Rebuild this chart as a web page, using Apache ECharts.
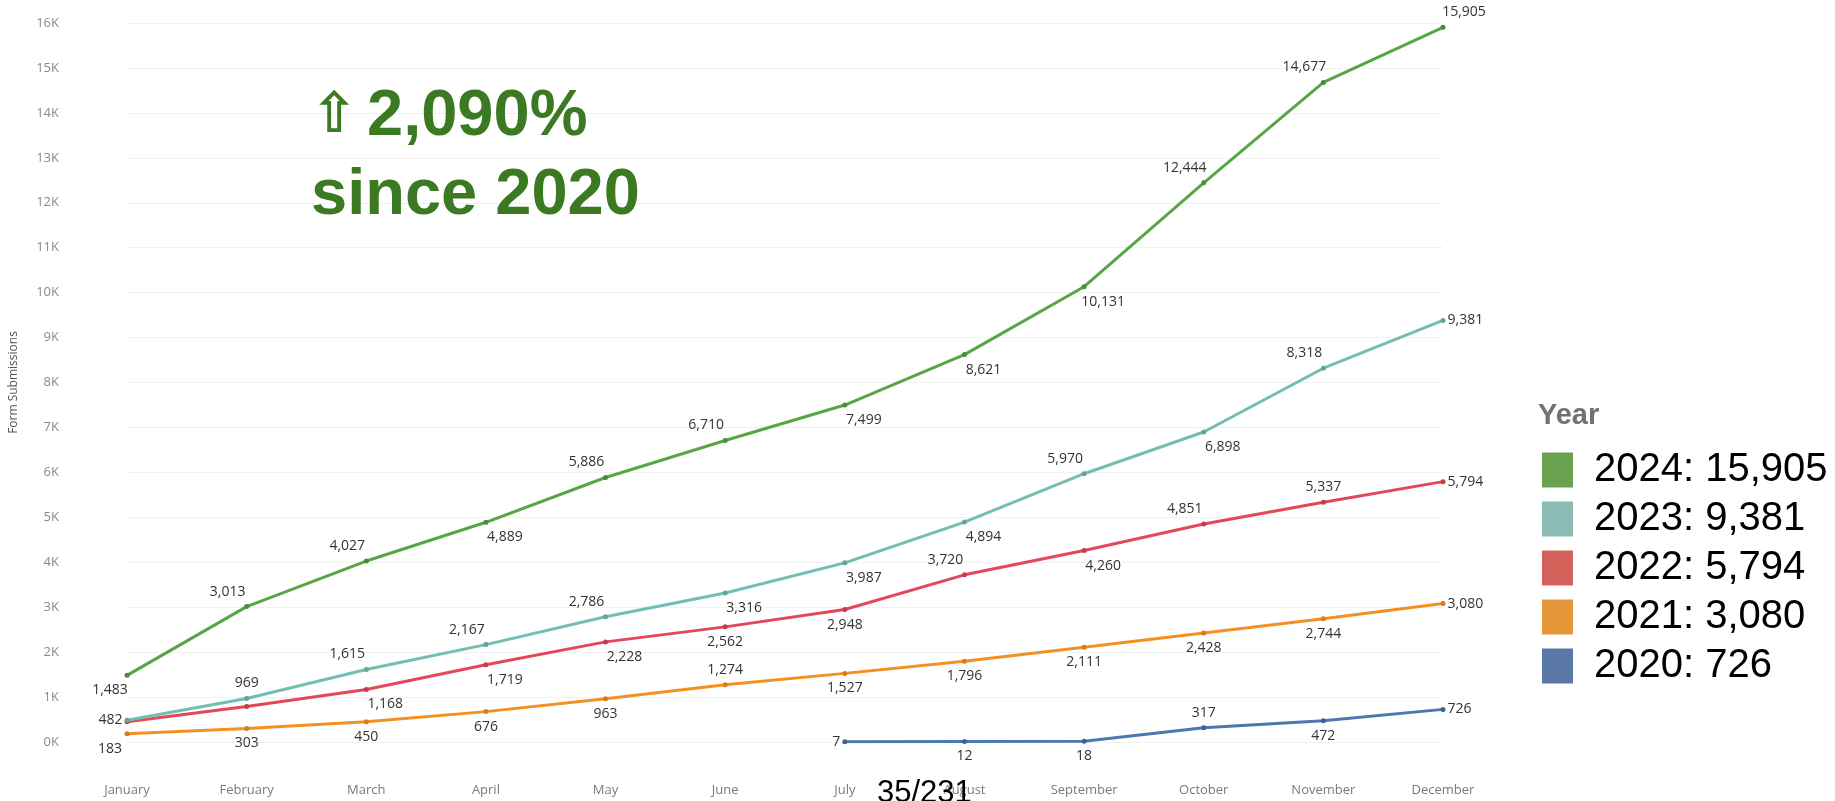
<!DOCTYPE html>
<html>
<head>
<meta charset="utf-8">
<title>Form Submissions by Month</title>
<script src="https://cdn.jsdelivr.net/npm/echarts@6/dist/echarts.min.js"></script>
<style>
  html, body { margin: 0; padding: 0; background: #ffffff; }
  #chart { width: 1835px; height: 801px; }
</style>
</head>
<body>
<div id="chart"></div>
<script>
// Months on the x axis
const months = ['January', 'February', 'March', 'April', 'May', 'June',
  'July', 'August', 'September', 'October', 'November', 'December'];

// Cumulative form submissions per year
const years = ['2024', '2023', '2022', '2021', '2020'];
const values2024 = [1483, 3013, 4027, 4889, 5886, 6710, 7499, 8621, 10131, 12444, 14677, 15905];
const values2023 = [482, 969, 1615, 2167, 2786, 3316, 3987, 4894, 5970, 6898, 8318, 9381];
const values2022 = [450, 790, 1168, 1719, 2228, 2562, 2948, 3720, 4260, 4851, 5337, 5794];
const values2021 = [183, 303, 450, 676, 963, 1274, 1527, 1796, 2111, 2428, 2744, 3080];
const values2020 = [null, null, null, null, null, null, 7, 12, 18, 317, 472, 726];

// Y axis tick range (thousands)
const yMin = 0, yMax = 16000, yStep = 1000;

// Headline text
const growthText = '2,090%';
const sinceText = 'since 2020';
const pageText = '35/231';

// Where each point's value label sits relative to its marker
// a = above, b = below, l = left, r = right, al/ar/bl/br = above/below shifted left/right, '' = none
const labelPlace = {
  '2024': ['bl', 'al', 'al', 'br', 'al', 'al', 'br', 'br', 'br', 'al', 'al', 'ar'],
  '2023': ['l', 'a', 'al', 'al', 'al', 'br', 'br', 'br', 'al', 'br', 'al', 'r'],
  '2022': ['', '', 'br', 'br', 'br', 'b', 'b', 'al', 'br', 'al', 'a', 'r'],
  '2021': ['bl', 'b', 'b', 'b', 'b', 'a', 'b', 'b', 'b', 'b', 'b', 'r'],
  '2020': ['', '', '', '', '', '', 'l', 'b', 'b', 'a', 'b', 'r']
};

const lineColors = {
  '2024': '#57a646', '2023': '#74bdb3', '2022': '#e44856', '2021': '#f4901f', '2020': '#4b78ae'
};
const dotColors = {
  '2024': '#4b8a3f', '2023': '#62a39a', '2022': '#c23d4b', '2021': '#d67d1f', '2020': '#3f628f'
};
const legendColors = {
  '2024': '#6aa14f', '2023': '#8bbcb4', '2022': '#d4625b', '2021': '#e49739', '2020': '#5a78a6'
};

const seriesValues = {
  '2024': values2024, '2023': values2023, '2022': values2022, '2021': values2021, '2020': values2020
};

const fmt = v => Number(v).toLocaleString('en-US');

function labelFor(code) {
  const dy = 15, dx = 19;
  const base = {
    show: true, color: '#333', fontSize: 14,
    fontFamily: '"Open Sans", "Noto Sans", sans-serif',
    formatter: p => fmt(p.value)
  };
  switch (code) {
    case 'a':  return Object.assign(base, { position: 'inside', offset: [0, -dy] });
    case 'b':  return Object.assign(base, { position: 'inside', offset: [0, dy] });
    case 'al': return Object.assign(base, { position: 'inside', offset: [-dx, -dy] });
    case 'ar': return Object.assign(base, { position: 'inside', offset: [dx + 2, -dy] });
    case 'bl': return Object.assign(base, { position: 'inside', offset: [-dx + 2, dy] });
    case 'br': return Object.assign(base, { position: 'inside', offset: [dx, dy] });
    case 'l':  return Object.assign(base, { position: 'left', distance: 2 });
    case 'r':  return Object.assign(base, { position: 'right', distance: 2 });
    default:   return { show: false };
  }
}

const series = years.map((y, si) => ({
  name: y,
  type: 'line',
  z: 10 - si,
  data: seriesValues[y].map((v, i) => ({ value: v, label: labelFor(labelPlace[y][i]) })),
  symbol: 'circle',
  symbolSize: 5,
  showSymbol: true,
  connectNulls: false,
  lineStyle: { color: lineColors[y], width: 3 },
  itemStyle: { color: dotColors[y] },
  emphasis: { disabled: true },
  animation: false
}));

const chart = echarts.init(document.getElementById('chart'), null, { renderer: 'canvas' });

chart.setOption({
  backgroundColor: '#ffffff',
  animation: false,
  title: {
    text: 'Year',
    left: 1533,
    top: 396,
    textStyle: {
      fontFamily: '"Liberation Sans", Arial, sans-serif',
      fontSize: 29, fontWeight: 'bold', color: '#727272'
    }
  },
  legend: {
    orient: 'vertical',
    left: 1537,
    top: 445,
    itemWidth: 31,
    itemHeight: 35,
    itemGap: 9,
    icon: 'rect',
    selectedMode: false,
    data: years.map(y => ({ name: y, itemStyle: { color: legendColors[y] } })),
    formatter: name => {
      const vals = seriesValues[name].filter(v => v != null);
      return name + ': ' + fmt(vals[vals.length - 1]);
    },
    textStyle: {
      fontFamily: '"Liberation Sans", Arial, sans-serif',
      fontSize: 40, color: '#000', padding: [4, 0, 0, 16]
    }
  },
  grid: { left: 125, right: 392, top: 23, bottom: 59 },
  xAxis: {
    type: 'category',
    data: months,
    boundaryGap: false,
    axisLine: { show: false },
    axisTick: { show: false },
    splitLine: { show: false },
    axisLabel: {
      color: '#7a7a7a', fontSize: 13, margin: 42,
      fontFamily: '"Open Sans", "Noto Sans", sans-serif'
    }
  },
  yAxis: {
    type: 'value',
    min: yMin, max: yMax, interval: yStep,
    name: 'Form Submissions',
    nameLocation: 'middle',
    nameGap: 107,
    nameTextStyle: {
      color: '#555', fontSize: 12,
      fontFamily: '"Open Sans", "Noto Sans", sans-serif'
    },
    axisLine: { show: false },
    axisTick: { show: false },
    splitLine: { lineStyle: { color: '#f1f1f1', width: 1 } },
    axisLabel: {
      color: '#8a8a8a', fontSize: 13, margin: 68,
      fontFamily: '"Open Sans", "Noto Sans", sans-serif',
      formatter: v => (v / 1000) + 'K'
    }
  },
  graphic: [
    {
      type: 'text', x: 311, y: 117, z: 100,
      style: {
        text: '⇧', fill: '#3b7a22',
        font: 'bold 56px "DejaVu Sans", sans-serif',
        textAlign: 'left', textVerticalAlign: 'middle'
      }
    },
    {
      type: 'text', x: 367, y: 117, z: 100,
      style: {
        text: growthText, fill: '#3b7a22',
        font: 'bold 65px "Liberation Sans", Arial, sans-serif',
        textAlign: 'left', textVerticalAlign: 'middle'
      }
    },
    {
      type: 'text', x: 311, y: 196, z: 100,
      style: {
        text: sinceText, fill: '#3b7a22',
        font: 'bold 65px "Liberation Sans", Arial, sans-serif',
        textAlign: 'left', textVerticalAlign: 'middle'
      }
    },
    {
      type: 'text', x: 877, y: 793, z: 100,
      style: {
        text: pageText, fill: '#000',
        font: '31px "Liberation Sans", Arial, sans-serif',
        textAlign: 'left', textVerticalAlign: 'middle'
      }
    }
  ],
  series: series
});
</script>
</body>
</html>
